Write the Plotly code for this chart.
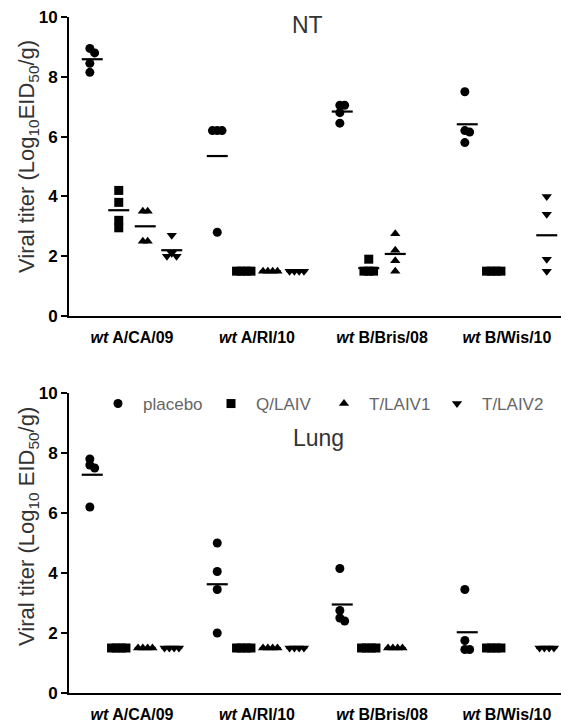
import numpy as np
import plotly.graph_objects as go

# ---------------- data ----------------
groups = ["A/CA/09", "A/RI/10", "B/Bris/08", "B/Wis/10"]
tick_labels = ["<i>wt</i> A/CA/09", "<i>wt</i> A/RI/10", "<i>wt</i> B/Bris/08", "<i>wt</i> B/Wis/10"]
treatments = ["placebo", "Q/LAIV", "T/LAIV1", "T/LAIV2"]

# NT (nasal turbinates), Log10 EID50/g, one list per virus group (None = not tested)
nt_placebo = [[8.95, 8.8, 8.45, 8.15], [6.2, 6.2, 6.2, 2.8], [7.05, 7.05, 6.8, 6.45], [7.5, 6.2, 6.15, 5.8]]
nt_qlaiv = [[4.2, 3.8, 3.2, 2.95], [1.5, 1.5, 1.5, 1.5], [1.9, 1.5, 1.5, 1.5], [1.5, 1.5, 1.5, 1.5]]
nt_tlaiv1 = [[3.5, 3.5, 2.5, 2.5], [1.5, 1.5, 1.5, 1.5], [2.75, 2.2, 1.85, 1.5], None]
nt_tlaiv2 = [[2.7, 2.1, 2.0, 2.0], [1.5, 1.5, 1.5, 1.5], None, [4.0, 3.4, 1.9, 1.5]]

# Lung
lung_placebo = [[7.8, 7.6, 7.5, 6.2], [5.0, 4.05, 3.45, 2.0], [4.15, 2.75, 2.5, 2.4], [3.45, 1.75, 1.45, 1.45]]
lung_qlaiv = [[1.5, 1.5, 1.5, 1.5], [1.5, 1.5, 1.5, 1.5], [1.5, 1.5, 1.5, 1.5], [1.5, 1.5, 1.5, 1.5]]
lung_tlaiv1 = [[1.5, 1.5, 1.5, 1.5], [1.5, 1.5, 1.5, 1.5], [1.5, 1.5, 1.5, 1.5], None]
lung_tlaiv2 = [[1.5, 1.5, 1.5, 1.5], [1.5, 1.5, 1.5, 1.5], None, [1.5, 1.5, 1.5, 1.5]]

y_ticks = [0, 2, 4, 6, 8, 10]

# ---------------- layout constants (page pixels; page body has an 8px margin) ----------------
PAGE_W, PAGE_H = 569, 722
OFF = 8
W, H = PAGE_W - OFF, PAGE_H - OFF


def px(v):
    return v - OFF


X_LEFT, X_RIGHT = 69, 565
GROUP_PX = 125.0
FIRST_CENTER = 132.0
SUB_PX = 26.5
X_RANGE = [(X_LEFT - FIRST_CENTER) / GROUP_PX, (X_RIGHT - FIRST_CENTER) / GROUP_PX]
panels = [
    dict(name="NT", top=17, bottom=316, data=[nt_placebo, nt_qlaiv, nt_tlaiv1, nt_tlaiv2],
         xa="x", ya="y", title_xy=(307, 25), ytitle_c=157,
         ytitle="Viral titer (Log<sub>10</sub>EID<sub>50</sub>/g)"),
    dict(name="Lung", top=393, bottom=693, data=[lung_placebo, lung_qlaiv, lung_tlaiv1, lung_tlaiv2],
         xa="x2", ya="y2", title_xy=(318, 438), ytitle_c=527,
         ytitle="Viral titer (Log<sub>10</sub> EID<sub>50</sub>/g)"),
]
symbols = ["circle", "square", "triangle-up", "triangle-down"]
MSIZE = 9
FONT = "Liberation Sans, Arial, sans-serif"


def spread(values, px_per_unit, step=4.8, dy=6.0):
    """Prism-like horizontal spreading of overlapping points (returns px offsets)."""
    placed = []
    cands = [0.0]
    for k in range(1, 10):
        cands += [k * step, -k * step]
    for v in values:
        yp = v * px_per_unit
        for c in cands:
            if all(not (abs(yp - py) < dy and abs(c - po) < step - 1e-6) for py, po in placed):
                placed.append((yp, c))
                break
    offs = np.array([p[1] for p in placed])
    offs -= (offs.min() + offs.max()) / 2
    return offs


fig = go.Figure()
for pi, p in enumerate(panels):
    ppu = (p["bottom"] - p["top"]) / 10.0
    mx, my = [], []
    tr_pts = []
    for ti, series in enumerate(p["data"]):
        xs, ys = [], []
        for gi, vals in enumerate(series):
            if vals is None:
                continue
            cx = gi + (ti - 1.5) * SUB_PX / GROUP_PX
            offs = spread(vals, ppu)
            xs += list(cx + offs / GROUP_PX)
            ys += list(vals)
            mx.append(cx)
            my.append(float(np.mean(vals)))
        tr_pts.append((xs, ys))
    # mean lines first (beneath markers)
    fig.add_trace(go.Scatter(x=mx, y=my, mode="markers", xaxis=p["xa"], yaxis=p["ya"],
                             marker=dict(symbol="line-ew", size=15, color="black",
                                         line=dict(width=2.2, color="black")),
                             showlegend=False, hoverinfo="skip"))
    for ti, (xs, ys) in enumerate(tr_pts):
        fig.add_trace(go.Scatter(x=xs, y=ys, mode="markers", xaxis=p["xa"], yaxis=p["ya"],
                                 name=treatments[ti],
                                 marker=dict(symbol=symbols[ti], size=MSIZE, color="black",
                                             line=dict(width=0)),
                                 showlegend=(pi == 1)))

annotations = []
for p in panels:
    annotations.append(dict(text=p["name"], x=px(p["title_xy"][0]) / W, y=1 - px(p["title_xy"][1]) / H,
                            xref="paper", yref="paper", showarrow=False,
                            font=dict(size=23, color="#333333", family=FONT),
                            xanchor="center", yanchor="middle"))
    annotations.append(dict(text=p["ytitle"], x=px(28) / W, y=1 - px(p["ytitle_c"]) / H,
                            xref="paper", yref="paper", showarrow=False, textangle=-90,
                            font=dict(size=22, color="#333333", family=FONT),
                            xanchor="center", yanchor="middle"))

axis_common = dict(showgrid=False, zeroline=False, showline=True, linecolor="black", linewidth=2,
                   automargin=False, ticklabeloverflow="allow")
xaxis_common = dict(axis_common, range=X_RANGE, tickvals=list(range(len(groups))), ticktext=tick_labels,
                    ticks="outside", ticklen=6, tickcolor="rgba(0,0,0,0)",
                    tickfont=dict(size=16, color="black", family=FONT, weight="bold"))
yaxis_common = dict(axis_common, range=[0, 10], tickvals=y_ticks, ticktext=[str(t) for t in y_ticks],
                    ticks="outside", ticklen=6, tickwidth=2, tickcolor="black",
                    tickfont=dict(size=17, color="black", family=FONT, weight="bold"))

xdom = [px(X_LEFT) / W, px(X_RIGHT) / W]
fig.update_layout(
    width=W, height=H, margin=dict(l=0, r=0, t=0, b=0),
    paper_bgcolor="white", plot_bgcolor="white",
    xaxis=dict(xaxis_common, domain=xdom, anchor="y"),
    yaxis=dict(yaxis_common, domain=[1 - px(panels[0]["bottom"]) / H, 1 - px(panels[0]["top"]) / H], anchor="x"),
    xaxis2=dict(xaxis_common, domain=xdom, anchor="y2"),
    yaxis2=dict(yaxis_common, domain=[1 - px(panels[1]["bottom"]) / H, 1 - px(panels[1]["top"]) / H], anchor="x2"),
    legend=dict(orientation="h", x=px(93) / W, y=1 - px(404) / H, xanchor="left", yanchor="middle",
                font=dict(size=17, color="#666666", family=FONT),
                bgcolor="rgba(0,0,0,0)", itemwidth=40, entrywidth=58, entrywidthmode="pixels",
                traceorder="normal"),
    annotations=annotations,
    showlegend=True,
)

fig.write_html("out.html")
